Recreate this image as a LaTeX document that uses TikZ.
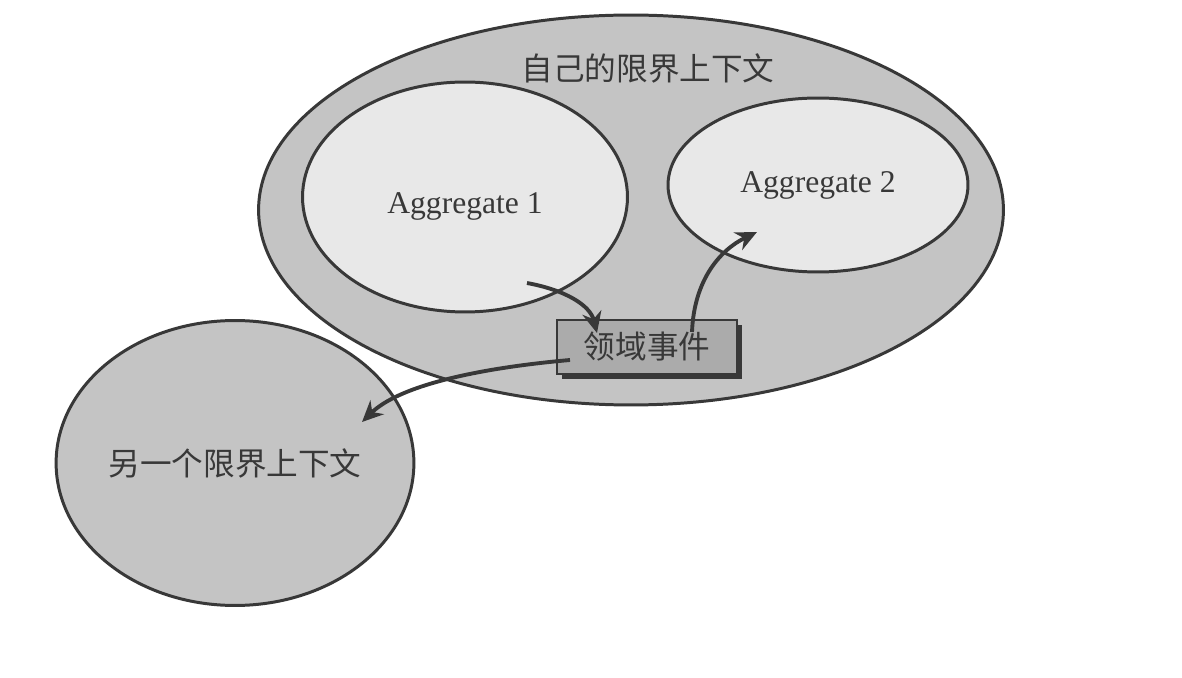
\documentclass[tikz,border=0pt]{standalone}
\usepackage{fontspec}
\setmainfont{Liberation Serif}
\newfontfamily\cjk{Noto Sans CJK SC}
\usetikzlibrary{arrows.meta,shapes.geometric,shadows}
\definecolor{ctxgray}{HTML}{C4C4C4}
\definecolor{agggray}{HTML}{E8E8E8}
\definecolor{evgray}{HTML}{ABABAB}
\definecolor{linegray}{HTML}{383838}

\begin{document}
\begin{tikzpicture}[x=0.02cm,y=-0.02cm,
		ctx/.style={ellipse,draw=linegray,line width=1.7pt,fill=ctxgray,inner sep=0pt,
			text=linegray,font=\cjk\fontsize{18}{20}\selectfont},
		agg/.style={ellipse,draw=linegray,line width=1.7pt,fill=agggray,inner sep=0pt,
			text=linegray,font=\fontsize{18}{20}\selectfont},
		evbox/.style={draw=linegray,line width=1.2pt,fill=evgray,text=linegray,
			font=\cjk\fontsize{18}{20}\selectfont,
			drop shadow={shadow xshift=0.1cm,shadow yshift=-0.1cm,fill=linegray,opacity=1}},
		evarrow/.style={linegray,line width=2.2pt,-{Stealth[length=12pt,width=11pt]}}]
		\useasboundingbox[fill=white] (0,0) rectangle (1182,678);
		% own bounded context
		\node[ctx,minimum width=14.9cm,minimum height=7.8cm] (own) at (631,210) {};
		\node[text=linegray,font=\cjk\fontsize{18}{20}\selectfont] (owntitle) at (648,68) {自己的限界上下文};
		\node[agg,minimum width=6.5cm,minimum height=4.6cm,text height=0.8cm] (agg1) at (465,197) {Aggregate 1};
		\node[agg,minimum width=6.0cm,minimum height=3.48cm] (agg2) at (818,185) {Aggregate 2};
		\node[evbox,minimum width=3.6cm,minimum height=1.08cm] (ev) at (647,347) {领域事件};
		% other bounded context
		\node[ctx,minimum width=6.9cm,minimum height=5.7cm] (other) at (235,463) {另一个限界上下文};
		\coordinate (a1out) at (527,283);
		\coordinate (evin) at (597,333);
		\coordinate (evout2) at (692,332);
		\coordinate (a2in) at (757,232);
		\coordinate (evout3) at (570,360);
		\coordinate (otherin) at (362,422);
		\draw[evarrow] (a1out) .. controls (565,290) and (590,305) .. (evin);
		\draw[evarrow] (evout2) .. controls (694,280) and (720,250) .. (a2in);
		\draw[evarrow] (evout3) .. controls (480,368) and (400,385) .. (otherin);
	\end{tikzpicture}
\end{document}
